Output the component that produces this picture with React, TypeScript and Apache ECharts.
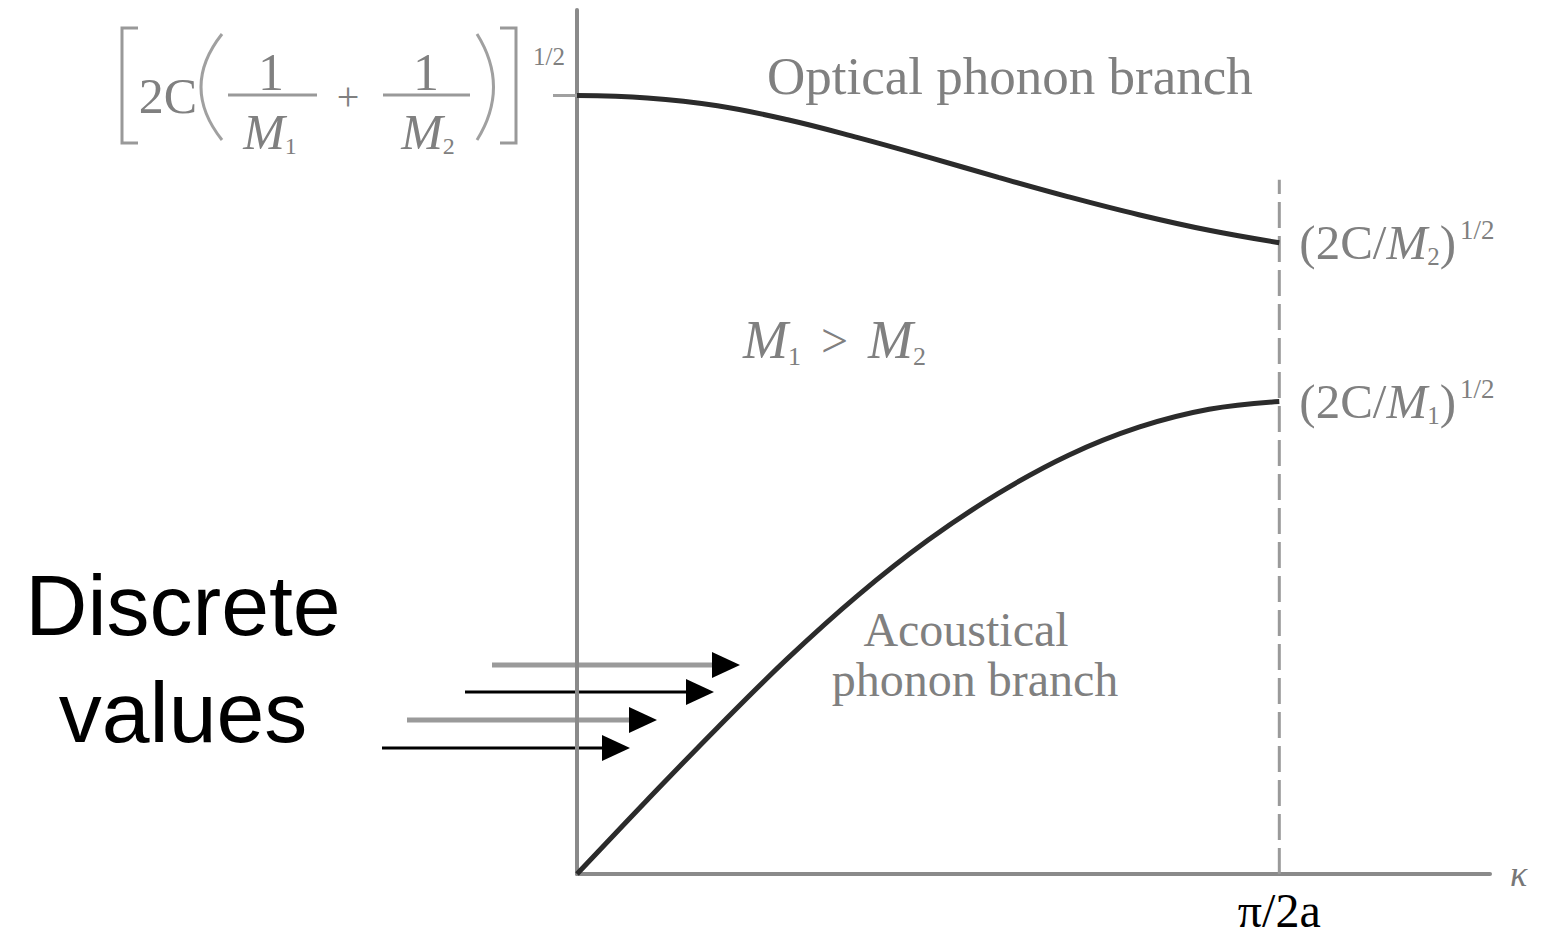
import React, { useEffect, useRef } from "react";
import * as echarts from "echarts";

// Wave vector in units of the zone edge (1 = π/2a)
const waveVector = [0, 0.1, 0.2, 0.3, 0.4, 0.5, 0.6, 0.7, 0.8, 0.9, 1.0];
// Frequencies in units of [2C(1/M1 + 1/M2)]^1/2
const opticalOmega = [1.0, 0.997, 0.987, 0.969, 0.946, 0.921, 0.895, 0.87, 0.847, 0.827, 0.811];
const acousticOmega = [0, 0.095, 0.188, 0.277, 0.358, 0.429, 0.489, 0.538, 0.574, 0.597, 0.607];
const zoneEdgeK = 1.0;
const zoneEdgeTop = 0.892;
const zoneEdgeLabel = "π/2a";
const axisName = "κ";
const opticalLabel = "Optical phonon branch";
const acousticLabel = ["Acoustical", "phonon branch"];
const discreteLabel = ["Discrete", "values"];

const GRAY = "#808080";
const SERIF = "'Liberation Serif', 'Times New Roman', serif";
const SANS = "'Liberation Sans', Arial, sans-serif";

const pairs = (xs: number[], ys: number[]) => xs.map((x, i) => [x, ys[i]]);

const endRich = {
  p: { fontFamily: SERIF, fontSize: 49, color: GRAY, lineHeight: 52 },
  m: { fontFamily: SERIF, fontSize: 49, fontStyle: "italic", color: GRAY, lineHeight: 52 },
  s: { fontFamily: SERIF, fontSize: 25, color: GRAY, lineHeight: 52, verticalAlign: "bottom" },
  u: { fontFamily: SERIF, fontSize: 27, color: GRAY, lineHeight: 52, verticalAlign: "top", padding: [0, 0, 0, 4] },
};

// Arrows pointing at the low-κ part of the acoustical branch
const arrowSpecs = [
  { x1: 492, x2: 716, y: 665, color: "#9a9a9a", w: 5 },
  { x1: 465, x2: 690, y: 692, color: "#000000", w: 3 },
  { x1: 407, x2: 633, y: 720, color: "#9a9a9a", w: 5 },
  { x1: 382, x2: 606, y: 748, color: "#000000", w: 3 },
];

function arrow(a: { x1: number; x2: number; y: number; color: string; w: number }) {
  return {
    type: "group",
    children: [
      { type: "line", shape: { x1: a.x1, y1: a.y, x2: a.x2, y2: a.y }, style: { stroke: a.color, lineWidth: a.w } },
      {
        type: "polygon",
        shape: { points: [[a.x2 - 4, a.y - 13], [a.x2 + 24, a.y], [a.x2 - 4, a.y + 13]] },
        style: { fill: "#000" },
      },
    ],
  };
}

function serifText(text: string, x: number, y: number, size: number, extra: any = {}) {
  return {
    type: "text",
    x,
    y,
    style: {
      text,
      fontFamily: SERIF,
      fontSize: size,
      fill: GRAY,
      verticalAlign: "middle",
      align: "center",
      ...extra,
    },
  };
}

const massRich = {
  m: { fontFamily: SERIF, fontSize: 50, fontStyle: "italic", fill: GRAY, lineHeight: 52 },
  s: { fontFamily: SERIF, fontSize: 24, fill: GRAY, lineHeight: 52, verticalAlign: "bottom" },
};

// [2C(1/M1 + 1/M2)]^1/2 at the top of the frequency axis
const formulaGraphics = [
  { type: "polyline", shape: { points: [[138, 28], [122, 28], [122, 143], [138, 143]] }, style: { stroke: "#999", lineWidth: 3, fill: null } },
  { type: "polyline", shape: { points: [[500, 28], [516, 28], [516, 143], [500, 143]] }, style: { stroke: "#999", lineWidth: 3, fill: null } },
  serifText("2C", 168, 96, 50),
  { type: "bezierCurve", shape: { x1: 222, y1: 34, x2: 222, y2: 140, cpx1: 180, cpy1: 87 }, style: { stroke: "#a0a0a0", lineWidth: 3, fill: null } },
  { type: "bezierCurve", shape: { x1: 477, y1: 34, x2: 477, y2: 140, cpx1: 510, cpy1: 87 }, style: { stroke: "#a0a0a0", lineWidth: 3, fill: null } },
  serifText("1", 271, 72, 52),
  { type: "line", shape: { x1: 228, y1: 95, x2: 317, y2: 95 }, style: { stroke: "#999", lineWidth: 3 } },
  { type: "text", x: 270, y: 132, style: { text: "{m|M}{s|1}", rich: massRich, align: "center", verticalAlign: "middle" } },
  serifText("+", 348, 96, 40),
  serifText("1", 426, 72, 52),
  { type: "line", shape: { x1: 383, y1: 95, x2: 470, y2: 95 }, style: { stroke: "#999", lineWidth: 3 } },
  { type: "text", x: 428, y: 132, style: { text: "{m|M}{s|2}", rich: massRich, align: "center", verticalAlign: "middle" } },
  serifText("1/2", 549, 56, 25),
];

export default function App() {
  const ref = useRef<HTMLDivElement>(null);

  useEffect(() => {
    if (!ref.current) return;
    const chart = echarts.init(ref.current, undefined, { renderer: "svg" });

    const option: any = {
      animation: false,
      backgroundColor: "#ffffff",
      grid: { left: 577, right: 71, top: 10, bottom: 64, containLabel: false },
      xAxis: {
        type: "value",
        min: 0,
        max: 1.3,
        name: axisName,
        nameLocation: "end",
        nameGap: 20,
        nameTextStyle: { fontFamily: SERIF, fontStyle: "italic", fontSize: 36, color: "#777", verticalAlign: "middle" },
        axisLine: { lineStyle: { color: "#8a8a8a", width: 4 } },
        axisTick: { show: false },
        splitLine: { show: false },
        axisLabel: {
          customValues: [zoneEdgeK],
          formatter: () => zoneEdgeLabel,
          fontFamily: SERIF,
          fontSize: 48,
          color: "#000",
          margin: 12,
        },
      },
      yAxis: {
        type: "value",
        min: 0,
        max: 1.11,
        axisLine: { show: true, lineStyle: { color: "#8a8a8a", width: 4 } },
        axisTick: { show: true, customValues: [opticalOmega[0]], length: 24, lineStyle: { color: "#a0a0a0", width: 3 } },
        axisLabel: { show: false },
        splitLine: { show: false },
      },
      series: [
        {
          name: "Optical",
          type: "line",
          data: pairs(waveVector, opticalOmega),
          smooth: 0.4,
          symbol: "none",
          lineStyle: { color: "#2b2b2b", width: 5 },
          endLabel: {
            show: true,
            distance: 20,
            formatter: "{p|(2C/}{m|M}{s|2}{p|)}{u|1/2}",
            rich: endRich,
          },
          z: 3,
        },
        {
          name: "Acoustical",
          type: "line",
          data: pairs(waveVector, acousticOmega),
          smooth: 0.4,
          symbol: "none",
          lineStyle: { color: "#2b2b2b", width: 5 },
          endLabel: {
            show: true,
            distance: 20,
            formatter: "{p|(2C/}{m|M}{s|1}{p|)}{u|1/2}",
            rich: endRich,
          },
          z: 3,
        },
        {
          name: "Zone edge",
          type: "line",
          data: [[zoneEdgeK, 0], [zoneEdgeK, zoneEdgeTop]],
          symbol: "none",
          lineStyle: { color: "#9a9a9a", width: 3, type: [26, 8] },
          z: 2,
        },
      ],
      graphic: [
        ...formulaGraphics,
        serifText(opticalLabel, 767, 76, 53, { align: "left" }),
        {
          type: "text",
          x: 743,
          y: 340,
          style: {
            text: "{m|M}{s|1}{o|>}{m|M}{s|2}",
            rich: {
              m: { fontFamily: SERIF, fontSize: 54, fontStyle: "italic", fill: GRAY, lineHeight: 58 },
              s: { fontFamily: SERIF, fontSize: 26, fill: GRAY, lineHeight: 58, verticalAlign: "bottom" },
              o: { fontFamily: SERIF, fontSize: 48, fill: GRAY, lineHeight: 58, padding: [0, 20, 0, 20] },
            },
            align: "left",
            verticalAlign: "middle",
          },
        },
        serifText(acousticLabel[0], 966, 629, 48),
        serifText(acousticLabel[1], 975, 679, 48),
        {
          type: "text",
          x: 183,
          y: 605,
          style: { text: discreteLabel[0], fontFamily: SANS, fontSize: 86, fill: "#000", align: "center", verticalAlign: "middle" },
        },
        {
          type: "text",
          x: 183,
          y: 712,
          style: { text: discreteLabel[1], fontFamily: SANS, fontSize: 86, fill: "#000", align: "center", verticalAlign: "middle" },
        },
        ...arrowSpecs.map(arrow),
      ],
    };

    chart.setOption(option);
    return () => chart.dispose();
  }, []);

  return (
    <div
      ref={ref}
      style={{ position: "absolute", left: 0, top: 0, width: 1561, height: 938, background: "#fff" }}
    />
  );
}
